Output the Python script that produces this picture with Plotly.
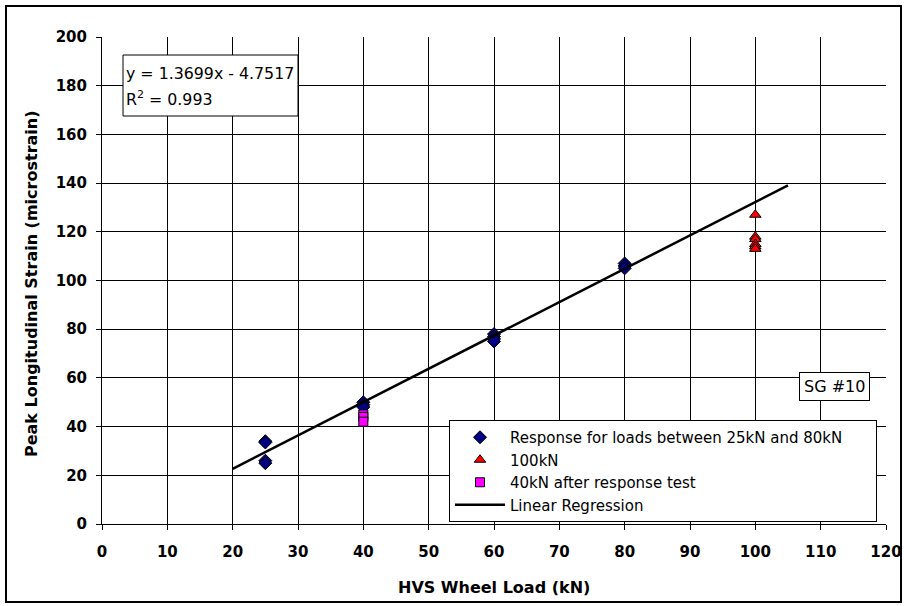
import plotly.graph_objects as go

# Data
resp_x = [25, 25, 25, 25, 40, 40, 40, 60, 60, 60, 60, 80, 80, 80]
resp_y = [34, 33.5, 26, 25, 50, 49, 48, 78, 77, 76, 75, 107, 106, 105]
load100_x = [100, 100, 100, 100, 100, 100]
load100_y = [127, 118, 117, 115, 114, 113]
after_x = [40, 40, 40]
after_y = [45, 44, 42]
slope = 1.3699
intercept = -4.7517
reg_x = [20, 105]
reg_y = [slope * x + intercept for x in reg_x]

x_ticks = list(range(0, 121, 10))
y_ticks = list(range(0, 201, 20))

W, H = 904, 606
ml, mr, mt, mb = 102, 18, 37, 82
pw, ph = W - ml - mr, H - mt - mb

def px(x):
    return (x - ml) / pw

def py(y):
    return (H - mb - y) / ph

FONT = "DejaVu Sans, Arial"
PAD = "\u00a0" * 6

fig = go.Figure()
fig.add_trace(go.Scatter(x=resp_x, y=resp_y, mode="markers", name="Response for loads between 25kN and 80kN" + PAD,
                         marker=dict(symbol="diamond", size=10, color="#000080", line=dict(color="black", width=1))))
fig.add_trace(go.Scatter(x=load100_x, y=load100_y, mode="markers", name="100kN",
                         marker=dict(symbol="triangle-up", size=10, color="#FF0000", line=dict(color="black", width=1))))
fig.add_trace(go.Scatter(x=after_x, y=after_y, mode="markers", name="40kN after response test",
                         marker=dict(symbol="square", size=9, color="#FF00FF", line=dict(color="black", width=1))))
fig.add_trace(go.Scatter(x=reg_x, y=reg_y, mode="lines", name="Linear Regression",
                         line=dict(color="black", width=2.5)))

tickfont = dict(size=15, family=FONT, weight="bold", color="black")
fig.update_layout(
    width=W, height=H,
    margin=dict(l=ml, r=mr, t=mt, b=mb, autoexpand=False),
    paper_bgcolor="white", plot_bgcolor="white",
    font=dict(family=FONT, color="black"),
    xaxis=dict(range=[0, 120], tickvals=x_ticks, showgrid=True, gridcolor="black", gridwidth=1,
               showline=True, linecolor="black", linewidth=1, ticks="outside", ticklen=5, tickcolor="black",
               tickfont=tickfont, zeroline=False, automargin=False, ticklabelstandoff=9),
    yaxis=dict(range=[0, 200], tickvals=y_ticks, showgrid=True, gridcolor="black", gridwidth=1,
               showline=True, linecolor="black", linewidth=1, ticks="outside", ticklen=5, tickcolor="black",
               tickfont=tickfont, zeroline=False, automargin=False, ticklabelstandoff=6),
    legend=dict(x=px(449), y=py(420), xanchor="left", yanchor="top", bgcolor="white",
                bordercolor="black", borderwidth=1, font=dict(size=15, family=FONT), tracegroupgap=0,
                itemwidth=50, traceorder="normal"),
    showlegend=True,
)

# Axis titles
fig.add_annotation(xref="paper", yref="paper", x=px(494), y=py(587), xanchor="center", yanchor="middle",
                   text="<b>HVS Wheel Load (kN)</b>", showarrow=False, font=dict(size=16, family=FONT))
fig.add_annotation(xref="paper", yref="paper", x=px(31), y=py(284), xanchor="center", yanchor="middle",
                   text="<b>Peak Longitudinal Strain (microstrain)</b>", showarrow=False, textangle=-90,
                   font=dict(size=16, family=FONT))

# Outer figure border
fig.add_shape(type="rect", xref="paper", yref="paper", x0=px(6), x1=px(901), y0=py(602), y1=py(6),
              line=dict(color="black", width=2), fillcolor="rgba(0,0,0,0)", layer="above")

# Equation box
fig.add_shape(type="rect", xref="paper", yref="paper", x0=px(123), x1=px(298), y0=py(116), y1=py(55),
              line=dict(color="black", width=1), fillcolor="white", layer="above")
fig.add_annotation(xref="paper", yref="paper", x=px(124), y=py(73), xanchor="left", yanchor="middle",
                   text="y = 1.3699x - 4.7517", showarrow=False, font=dict(size=15.8, family=FONT))
fig.add_annotation(xref="paper", yref="paper", x=px(124), y=py(98), xanchor="left", yanchor="middle",
                   text="R<sup>2</sup> = 0.993", showarrow=False, font=dict(size=15.8, family=FONT))

# SG #10 label
fig.add_annotation(xref="paper", yref="paper", x=px(799), y=py(372), xanchor="left", yanchor="top",
                   text="SG #10", showarrow=False, font=dict(size=16, family=FONT), bgcolor="white",
                   bordercolor="black", borderwidth=1, borderpad=4)

fig.write_html("out.html", config={"displayModeBar": False},
               post_script="document.body.style.margin='0';")
